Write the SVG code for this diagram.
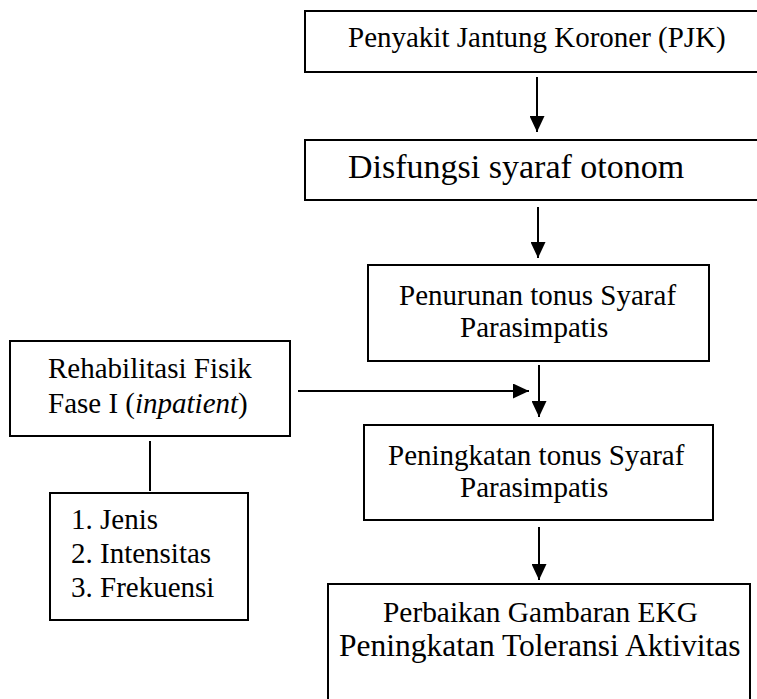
<svg xmlns="http://www.w3.org/2000/svg" width="757" height="699" viewBox="0 0 757 699">
<style>
  .box { fill: #ffffff; stroke: #000000; stroke-width: 2; }
  .t { font-family: "Liberation Serif", "Times New Roman", serif; font-size: 29px; fill: #000000; }
  .big { font-size: 34px; }
  .l5a { font-size: 29.4px; }
  .l5b { font-size: 31.5px; }
  .conn { stroke: #000000; stroke-width: 2; fill: none; }
</style>
<defs>
  <marker id="ah" markerUnits="userSpaceOnUse" markerWidth="16" markerHeight="15" refX="16" refY="7.5" orient="auto">
    <path d="M0,0 L16,7.5 L0,15 Z" fill="#000000"/>
  </marker>
</defs>
<rect width="757" height="699" fill="#ffffff"/>

<g id="n-pjk">
  <rect class="box" x="305" y="11" width="470" height="61"/>
  <text class="t" x="348" y="47">Penyakit Jantung Koroner (PJK)</text>
</g>
<g id="n-disfungsi">
  <rect class="box" x="305" y="140" width="470" height="60"/>
  <text class="t big" x="348" y="178">Disfungsi syaraf otonom</text>
</g>
<g id="n-penurunan">
  <rect class="box" x="368" y="265" width="341" height="96"/>
  <text class="t" x="399" y="305">Penurunan tonus Syaraf</text>
  <text class="t" x="460" y="337">Parasimpatis</text>
</g>
<g id="n-rehab">
  <rect class="box" x="10" y="341" width="280" height="95"/>
  <text class="t" x="48" y="378">Rehabilitasi Fisik</text>
  <text class="t" x="48" y="413">Fase I (<tspan font-style="italic">inpatient</tspan>)</text>
</g>
<g id="n-peningkatan">
  <rect class="box" x="364" y="425" width="349" height="95"/>
  <text class="t" x="388" y="465">Peningkatan tonus Syaraf</text>
  <text class="t" x="460" y="497">Parasimpatis</text>
</g>
<g id="n-list">
  <rect class="box" x="50" y="493" width="198" height="127"/>
  <text class="t" x="71" y="529">1. Jenis</text>
  <text class="t" x="71" y="563">2. Intensitas</text>
  <text class="t" x="71" y="597">3. Frekuensi</text>
</g>
<g id="n-perbaikan">
  <rect class="box" x="328" y="584" width="422" height="130"/>
  <text class="t l5a" x="383" y="622">Perbaikan Gambaran EKG</text>
  <text class="t l5b" x="339" y="656">Peningkatan Toleransi Aktivitas</text>
</g>

<g id="connectors">
  <line class="conn" x1="537" y1="77" x2="537" y2="132" marker-end="url(#ah)"/>
  <line class="conn" x1="538" y1="207" x2="538" y2="258" marker-end="url(#ah)"/>
  <line class="conn" x1="539" y1="365" x2="539" y2="417" marker-end="url(#ah)"/>
  <line class="conn" x1="298" y1="391" x2="529" y2="391" marker-end="url(#ah)"/>
  <line class="conn" x1="539" y1="527" x2="539" y2="580" marker-end="url(#ah)"/>
  <line class="conn" x1="150" y1="441" x2="150" y2="491"/>
</g>
</svg>
